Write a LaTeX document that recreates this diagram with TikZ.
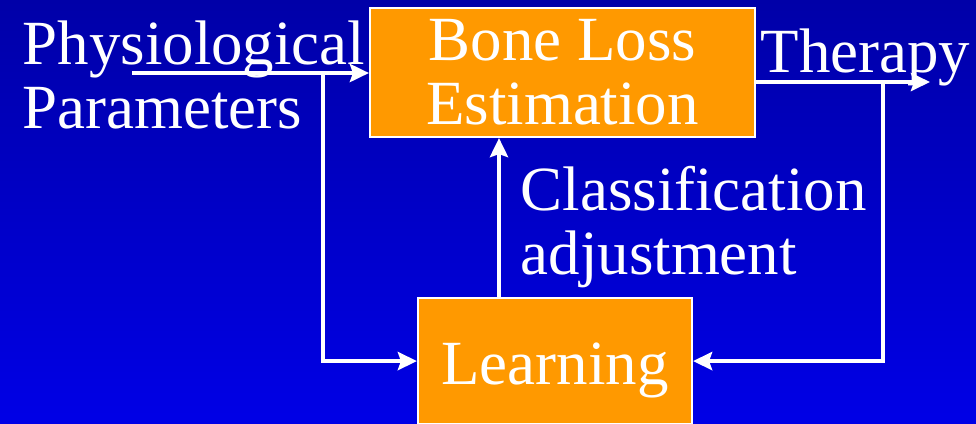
\documentclass[tikz,border=0pt]{standalone}
\usepackage{fontspec}
\setmainfont{Liberation Serif}
\usetikzlibrary{positioning, arrows.meta}

\definecolor{slidetop}{RGB}{0,0,168}
\definecolor{slidebot}{RGB}{0,0,230}
\definecolor{boxorange}{RGB}{255,153,0}

\begin{document}
\begin{tikzpicture}[
   every node/.style={text=white, font=\fontsize{17.9}{18.3}\selectfont},
   block/.style={draw=white, line width=0.6pt, fill=boxorange, align=center, inner sep=0pt},
   flow/.style={draw=white, line width=1.2pt,
                -{Stealth[length=0.19cm, width=0.18cm, inset=0.03cm]}}]

   \useasboundingbox (0,0) rectangle (9.76,4.23);
   \shade[top color=slidetop, bottom color=slidebot] (0,0) rectangle (9.76,4.23);

   \node[block, minimum width=3.85cm, minimum height=1.29cm] (bone) at (5.625,3.505)
        {\raisebox{-0.03cm}{Bone Loss}\\\raisebox{-0.03cm}{Estimation}};
   \node[block, minimum width=2.74cm, minimum height=1.26cm, anchor=north,
         text height=0.6cm, text depth=0.14cm] (learn) at (5.55,1.26) {Learning};

   \node[anchor=north west, align=left, inner sep=0pt] (phys) at (0.22,4.03)
        {Physiological\\Parameters};
   \node[anchor=base west, inner sep=0pt] (ther) at (7.60,3.51) {Therapy};
   \node[anchor=north west, align=left, inner sep=0pt] (cls) at (5.20,2.58)
        {Classification\\adjustment};

   \coordinate (pstart)  at (1.32,3.50);
   \coordinate (pbranch) at (3.23,3.50);
   \coordinate (tend)    at (9.30,3.41);
   \coordinate (tbranch) at (8.83,3.41);
   \coordinate (cx)      at (4.99,0);

   \draw[flow] (pstart) -- (pstart -| bone.west);
   \draw[flow] (pbranch) |- (learn.west);
   \draw[flow] (bone.east |- tend) -- (tend);
   \draw[flow] (tbranch) |- (learn.east);
   \draw[flow] (learn.north -| cx) -- (bone.south -| cx);

\end{tikzpicture}
\end{document}
